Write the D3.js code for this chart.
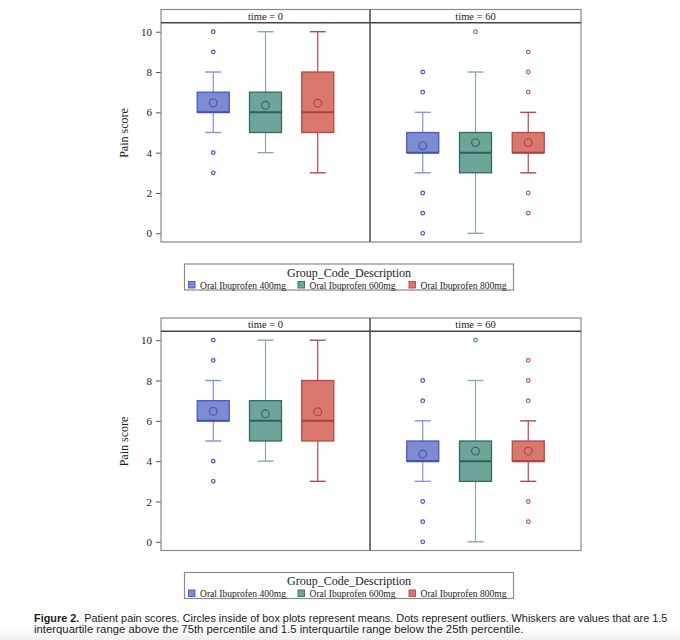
<!DOCTYPE html>
<html>
<head>
<meta charset="utf-8">
<script src="https://cdn.jsdelivr.net/npm/d3@7"></script>
<style>
  html, body { margin: 0; padding: 0; background: #fff; }
  svg { display: block; }
</style>
</head>
<body>
<script>
// ---------------- DATA ----------------
const groups = ["Oral Ibuprofen 400mg", "Oral Ibuprofen 600mg", "Oral Ibuprofen 800mg"];
const times = ["time = 0", "time = 60"];
const yTicks = [0, 2, 4, 6, 8, 10];
// per time panel, per group
const whiskerLow  = [[5, 4, 3], [3, 0, 3]];
const q1          = [[6, 5, 5], [4, 3, 4]];
const medians     = [[6, 6, 6], [4, 4, 4]];
const q3          = [[7, 7, 8], [5, 5, 5]];
const whiskerHigh = [[8, 10, 10], [6, 8, 6]];
const means       = [[6.47, 6.35, 6.45], [4.35, 4.5, 4.5]];
const outliers    = [[[10, 9, 4, 3], [], []], [[8, 7, 2, 1, 0], [10], [9, 8, 7, 2, 1]]];
const legendTitle = "Group_Code_Description";
const yLabel = "Pain score";
const captionBold = "Figure 2.";
const captionLine1 = "Patient pain scores. Circles inside of box plots represent means. Dots represent outliers. Whiskers are values that are 1.5";
const captionLine2 = "interquartile range above the 75th percentile and 1.5 interquartile range below the 25th percentile.";

// ---------------- STYLE ----------------
const fills   = ["#7d8bd0", "#6fa49a", "#d9786c"];
const strokes = ["#4b58c6", "#2f6d62", "#b9474a"];
const whiskerCols = ["#8592de", "#83ada5", "#b9474a"];
const outlierCols = ["#4b50cc", "#4f8e80", "#c0575a"];
const serif = "'Liberation Serif', 'DejaVu Serif', serif";
const sans = "'Liberation Sans', Arial, sans-serif";

const W = 680, H = 640;
const svg = d3.select("body").append("svg").attr("width", W).attr("height", H);

// subtle gray band at bottom
const defs = svg.append("defs");
const grad = defs.append("linearGradient").attr("id", "bg").attr("x1", 0).attr("y1", 0).attr("x2", 0).attr("y2", 1);
grad.append("stop").attr("offset", 0).attr("stop-color", "#fff");
grad.append("stop").attr("offset", 1).attr("stop-color", "#efefef");
svg.append("rect").attr("x", 0).attr("y", 628).attr("width", W).attr("height", 12).attr("fill", "url(#bg)");

const frameL = 161, frameR = 581, divX = 370;

function drawFigure(oy) {
  const g = svg.append("g").attr("transform", `translate(0,${oy})`);
  const headTop = 9.5, headBot = 22.7, plotBot = 242;
  const y = d3.scaleLinear().domain([0, 10]).range([233.3, 31.7]);
  const panels = [[frameL, divX], [divX, frameR]];

  // y axis
  const ax = g.append("g").attr("transform", `translate(${frameL},0)`)
    .call(d3.axisLeft(y).tickValues(yTicks).tickSize(5).tickPadding(4).tickFormat(d3.format("d")));
  ax.select(".domain").remove();
  ax.selectAll("line").attr("stroke", "#555");
  ax.selectAll("text").attr("font-family", serif).attr("font-size", 11).attr("fill", "#222");

  g.append("text").attr("transform", `translate(128,133) rotate(-90)`)
    .attr("text-anchor", "middle").attr("font-family", serif).attr("font-size", 12).attr("fill", "#222")
    .text(yLabel);

  panels.forEach((p, ti) => {
    const [l, r] = p;
    const x = d3.scalePoint().domain(groups).range([l, r]).padding(1);
    const bw = 32, cap = 16;
    groups.forEach((grp, gi) => {
      const cx = x(grp);
      const gg = g.append("g");
      // whiskers
      gg.append("line").attr("x1", cx).attr("x2", cx).attr("y1", y(q3[ti][gi])).attr("y2", y(whiskerHigh[ti][gi]))
        .attr("stroke", whiskerCols[gi]).attr("stroke-width", 1.2);
      gg.append("line").attr("x1", cx).attr("x2", cx).attr("y1", y(q1[ti][gi])).attr("y2", y(whiskerLow[ti][gi]))
        .attr("stroke", whiskerCols[gi]).attr("stroke-width", 1.2);
      [whiskerHigh[ti][gi], whiskerLow[ti][gi]].forEach(v => {
        gg.append("line").attr("x1", cx - cap / 2).attr("x2", cx + cap / 2).attr("y1", y(v)).attr("y2", y(v))
          .attr("stroke", whiskerCols[gi]).attr("stroke-width", 1.4);
      });
      // box
      gg.append("rect").attr("x", cx - bw / 2).attr("width", bw)
        .attr("y", y(q3[ti][gi])).attr("height", y(q1[ti][gi]) - y(q3[ti][gi]))
        .attr("fill", fills[gi]).attr("stroke", strokes[gi]).attr("stroke-width", 1.3);
      // median
      gg.append("line").attr("x1", cx - bw / 2).attr("x2", cx + bw / 2)
        .attr("y1", y(medians[ti][gi])).attr("y2", y(medians[ti][gi]))
        .attr("stroke", d3.color(strokes[gi]).darker(0.3)).attr("stroke-width", 2);
      // mean
      gg.append("circle").attr("cx", cx).attr("cy", y(means[ti][gi])).attr("r", 3.9)
        .attr("fill", "none").attr("stroke", d3.color(strokes[gi]).darker(0.2)).attr("stroke-width", 1.1);
      // outliers
      outliers[ti][gi].forEach(v => {
        gg.append("circle").attr("cx", cx).attr("cy", y(v)).attr("r", 1.8)
          .attr("fill", "none").attr("stroke", outlierCols[gi]).attr("stroke-width", 1.2);
      });
    });
    // header text
    g.append("text").attr("x", (l + r) / 2).attr("y", 19.8).attr("text-anchor", "middle")
      .attr("font-family", serif).attr("font-size", 10.5).attr("fill", "#222").text(times[ti]);
  });

  // frames
  g.append("rect").attr("x", frameL).attr("y", headTop).attr("width", frameR - frameL).attr("height", plotBot - headTop)
    .attr("fill", "none").attr("stroke", "#8a8a8a").attr("stroke-width", 1.2);
  g.append("line").attr("x1", frameL).attr("x2", frameR).attr("y1", headBot).attr("y2", headBot)
    .attr("stroke", "#444").attr("stroke-width", 1.6);
  g.append("line").attr("x1", divX).attr("x2", divX).attr("y1", headTop).attr("y2", plotBot)
    .attr("stroke", "#555").attr("stroke-width", 1.6);

  // legend
  const lg = g.append("g");
  lg.append("rect").attr("x", 184.5).attr("y", 264).attr("width", 329).attr("height", 26)
    .attr("fill", "#fff").attr("stroke", "#8a8a8a").attr("stroke-width", 1.2);
  lg.append("text").attr("x", 349).attr("y", 276.5).attr("text-anchor", "middle")
    .attr("font-family", serif).attr("font-size", 12).attr("fill", "#222").text(legendTitle);
  const itemX = [188.5, 298, 409];
  groups.forEach((grp, gi) => {
    lg.append("rect").attr("x", itemX[gi]).attr("y", 281.5).attr("width", 6.5).attr("height", 6.5)
      .attr("fill", fills[gi]).attr("stroke", strokes[gi]).attr("stroke-width", 0.9);
    const t = lg.append("text").attr("x", itemX[gi] + 11.5).attr("y", 288.5)
      .attr("font-family", serif).attr("font-size", 10).attr("fill", "#222").text(grp);
    const w = t.node().getComputedTextLength();
    t.attr("font-size", 10 * 86 / w);
  });
}

drawFigure(0);
drawFigure(308.5);

// caption
const cap = svg.append("g").attr("font-family", sans).attr("fill", "#1a1a1a");
const t1 = cap.append("text").attr("x", 34).attr("y", 621.5).attr("font-size", 10.5);
t1.append("tspan").attr("font-weight", "bold").text(captionBold);
t1.append("tspan").attr("dx", 5).text(captionLine1);
const t2 = cap.append("text").attr("x", 34).attr("y", 632.5).attr("font-size", 10.5).text(captionLine2);
// fit caption widths to reference
const w1 = t1.node().getComputedTextLength();
t1.attr("font-size", 10.5 * 629 / w1);
const w2 = t2.node().getComputedTextLength();
t2.attr("font-size", 10.5 * (490 / w2));
</script>
</body>
</html>
